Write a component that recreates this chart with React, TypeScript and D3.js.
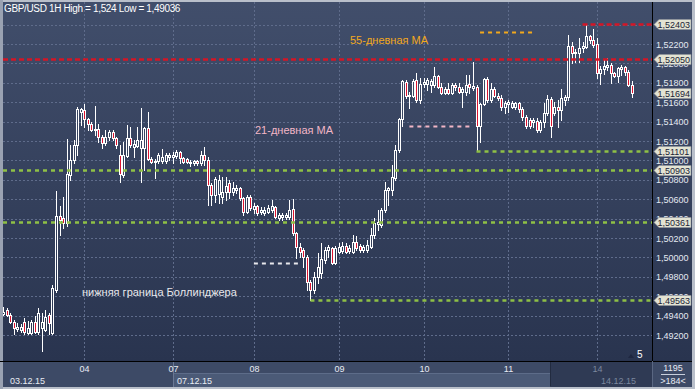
import React from 'react';
import * as d3 from 'd3';

const W = 695, H = 389;

const openP = [1.49417,1.49458,1.49407,1.49334,1.49262,1.49252,1.49334,1.49221,1.49221,1.49334,1.49231,1.49273,1.49252,1.49407,1.49221,1.49664,1.50427,1.50407,1.50355,1.50850,
1.51005,1.51159,1.51499,1.51520,1.51427,1.51376,1.51314,1.51324,1.51242,1.51180,1.51242,1.51293,1.51231,1.51056,1.50850,1.51046,1.51231,1.51139,1.51149,1.51128,
1.51128,1.51334,1.51015,1.50984,1.50994,1.50994,1.50994,1.51035,1.51035,1.51046,1.51087,1.51025,1.51015,1.50984,1.50974,1.50994,1.50974,1.51056,1.51005,1.50747,
1.50644,1.50654,1.50623,1.50675,1.50767,1.50675,1.50695,1.50716,1.50613,1.50468,1.50623,1.50499,1.50530,1.50468,1.50458,1.50468,1.50489,1.50520,1.50407,1.50417,
1.50417,1.50417,1.50499,1.50252,1.50108,1.50077,1.50005,1.49747,1.49664,1.49798,1.49840,1.49974,1.50077,1.50097,1.49943,1.50056,1.50066,1.50118,1.50066,1.50056,
1.50159,1.50118,1.50077,1.50077,1.50108,1.50231,1.50345,1.50334,1.50489,1.50695,1.50695,1.50819,1.51108,1.51427,1.51809,1.51664,1.51664,1.51829,1.51623,1.51788,
1.51788,1.51778,1.51778,1.51871,1.51757,1.51695,1.51736,1.51695,1.51778,1.51757,1.51706,1.51706,1.51788,1.51747,1.51757,1.51355,1.51582,1.51840,1.51623,1.51736,
1.51664,1.51644,1.51551,1.51582,1.51551,1.51551,1.51592,1.51530,1.51448,1.51417,1.51396,1.51407,1.51314,1.51396,1.51489,1.51633,1.51489,1.51551,1.51520,1.51623,
1.51654,1.52180,1.52108,1.52108,1.52159,1.52169,1.52283,1.52242,1.52200,1.51901,1.51943,1.51963,1.51984,1.51901,1.51871,1.51943,1.51963,1.51912,1.51778];

const highP = [1.49489,1.49479,1.49427,1.49355,1.49324,1.49314,1.49376,1.49345,1.49355,1.49396,1.49479,1.49427,1.49458,1.49427,1.49716,1.50685,1.50530,1.50623,1.51221,1.51159,
1.51211,1.51551,1.51541,1.51582,1.51438,1.51396,1.51561,1.51376,1.51262,1.51314,1.51314,1.51314,1.51242,1.51159,1.51190,1.51365,1.51345,1.51211,1.51345,1.51541,
1.51345,1.51499,1.51035,1.51015,1.51077,1.51118,1.51077,1.51077,1.51087,1.51108,1.51097,1.51035,1.51025,1.51005,1.51005,1.51005,1.51097,1.51139,1.51035,1.50767,
1.50829,1.50850,1.50829,1.50829,1.50798,1.50778,1.50747,1.50726,1.50623,1.50644,1.50644,1.50561,1.50541,1.50520,1.50520,1.50541,1.50592,1.50530,1.50458,1.50458,
1.50458,1.50592,1.50602,1.50262,1.50149,1.50097,1.50025,1.49767,1.49850,1.50046,1.50149,1.50108,1.50128,1.50108,1.50118,1.50149,1.50159,1.50149,1.50128,1.50231,
1.50221,1.50139,1.50128,1.50180,1.50304,1.50407,1.50489,1.50510,1.50778,1.50726,1.50953,1.51159,1.51438,1.51829,1.51829,1.51706,1.51840,1.51901,1.51850,1.51850,
1.51850,1.51840,1.51963,1.51881,1.51798,1.51757,1.51798,1.51798,1.51798,1.51798,1.51757,1.51881,1.51881,1.52015,1.51778,1.51592,1.51850,1.51860,1.51798,1.51757,
1.51695,1.51675,1.51613,1.51623,1.51613,1.51602,1.51602,1.51551,1.51468,1.51438,1.51438,1.51438,1.51417,1.51592,1.51675,1.51654,1.51602,1.51623,1.51736,1.51675,
1.52293,1.52221,1.52149,1.52262,1.52221,1.52400,1.52293,1.52355,1.52262,1.51974,1.52035,1.52056,1.52005,1.51912,1.51963,1.51984,1.51974,1.51932,1.51819];

const lowP = [1.49407,1.49396,1.49324,1.49211,1.49242,1.49231,1.49211,1.49211,1.49211,1.49221,1.49211,1.49036,1.49242,1.49211,1.49211,1.49644,1.50231,1.50304,1.50324,1.50798,
1.50974,1.51056,1.51365,1.51345,1.51314,1.51304,1.51262,1.51190,1.51128,1.51159,1.51211,1.51211,1.51128,1.50778,1.50829,1.51035,1.51139,1.51035,1.51139,1.50778,
1.50901,1.51005,1.50974,1.50819,1.50974,1.50974,1.50974,1.51005,1.50974,1.51025,1.50974,1.50974,1.50974,1.50943,1.50953,1.50953,1.50953,1.50953,1.50541,1.50541,
1.50572,1.50561,1.50561,1.50592,1.50613,1.50644,1.50664,1.50592,1.50438,1.50458,1.50489,1.50458,1.50438,1.50448,1.50438,1.50458,1.50468,1.50407,1.50386,1.50386,
1.50396,1.50396,1.50231,1.49994,1.50005,1.49902,1.49664,1.49563,1.49633,1.49737,1.49788,1.49943,1.50005,1.49933,1.49933,1.50046,1.50046,1.50046,1.50046,1.50046,
1.50077,1.50056,1.50056,1.50056,1.50097,1.50200,1.50283,1.50314,1.50468,1.50541,1.50644,1.50798,1.51087,1.51355,1.51644,1.51541,1.51654,1.51602,1.51592,1.51757,
1.51726,1.51706,1.51757,1.51747,1.51685,1.51685,1.51685,1.51685,1.51726,1.51695,1.51551,1.51675,1.51695,1.51726,1.51101,1.51190,1.51572,1.51602,1.51602,1.51654,
1.51623,1.51520,1.51489,1.51499,1.51541,1.51530,1.51499,1.51417,1.51334,1.51334,1.51345,1.51293,1.51293,1.51345,1.51468,1.51242,1.51468,1.51345,1.51417,1.51572,
1.51623,1.52005,1.52015,1.52015,1.52118,1.52159,1.52211,1.52169,1.51850,1.51788,1.51891,1.51932,1.51798,1.51860,1.51809,1.51881,1.51881,1.51767,1.51654];

const closeP = [1.49438,1.49407,1.49334,1.49273,1.49283,1.49283,1.49231,1.49273,1.49334,1.49231,1.49427,1.49334,1.49386,1.49324,1.49685,1.50427,1.50386,1.50355,1.50860,1.51005,
1.51159,1.51530,1.51530,1.51427,1.51376,1.51314,1.51324,1.51242,1.51180,1.51242,1.51293,1.51231,1.51159,1.50860,1.51056,1.51231,1.51159,1.51169,1.51211,1.51211,
1.51334,1.51015,1.50984,1.50994,1.51056,1.51035,1.51056,1.51056,1.51056,1.51087,1.51025,1.50984,1.50984,1.50974,1.50994,1.50974,1.51056,1.51005,1.50747,1.50644,
1.50809,1.50798,1.50675,1.50737,1.50675,1.50716,1.50716,1.50613,1.50468,1.50623,1.50510,1.50530,1.50458,1.50489,1.50489,1.50510,1.50530,1.50417,1.50438,1.50438,
1.50438,1.50489,1.50252,1.50108,1.50056,1.50005,1.49747,1.49664,1.49798,1.49902,1.49984,1.50077,1.50108,1.49943,1.50097,1.50108,1.50118,1.50056,1.50097,1.50159,
1.50097,1.50077,1.50108,1.50128,1.50231,1.50355,1.50365,1.50489,1.50695,1.50716,1.50829,1.51108,1.51427,1.51819,1.51664,1.51675,1.51819,1.51623,1.51788,1.51809,
1.51829,1.51819,1.51871,1.51757,1.51695,1.51736,1.51695,1.51778,1.51757,1.51706,1.51736,1.51778,1.51757,1.51767,1.51355,1.51582,1.51840,1.51623,1.51736,1.51664,
1.51644,1.51551,1.51592,1.51602,1.51592,1.51592,1.51530,1.51448,1.51355,1.51355,1.51417,1.51314,1.51396,1.51489,1.51633,1.51355,1.51551,1.51520,1.51644,1.51654,
1.52180,1.52108,1.52118,1.52159,1.52180,1.52283,1.52242,1.52190,1.51901,1.51943,1.51974,1.51984,1.51901,1.51871,1.51953,1.51963,1.51912,1.51778,1.51694];

const priceTicks = [1.492,1.494,1.496,1.498,1.500,1.502,1.504,1.506,1.508,1.510,1.512,1.514,1.516,1.518,1.520,1.522,1.524];

const dayBars = [23, 48, 71, 95, 119, 143, 168];
const dayLabels = ['04', '07', '08', '09', '10', '11', '14'];
const weekBars = [0, 48, 168];
const weekLabels = ['03.12.15', '07.12.15', '14.12.15'];

const levelPrices = [1.52403, 1.52050, 1.51101, 1.50903, 1.50361, 1.49563];
const levelStartBar = [164, 0, 134, 0, 0, 87];
const levelKind = ['res', 'res', 'sup', 'sup', 'sup', 'sup'];
const lastPrice = 1.51694;

const maNames = ['55-дневная MA', '21-дневная MA', 'нижняя граница Боллинджера'];
const maPrices = [1.52324, 1.51355, 1.49946];
const maFromBar = [135, 115, 71];
const maToBar = [150, 132, 83.5];

const headerText = 'GBP/USD 1H High = 1,524 Low = 1,49036';
const cornerTop = '1195';
const cornerBottom = '>184<';
const zoomLabel = '5';

const FONT = '"Liberation Sans", Arial, sans-serif';

export default function App() {
  const plotL = 3, plotR = 652, plotT = 2, plotB = 361, axisR = 692, botB = 387;
  const n = openP.length;
  const x = d3.scaleLinear().domain([0, n - 1]).range([3, 632]);
  const y = d3.scaleLinear().domain([1.492, 1.524]).range([335, 24.6]);
  const px = (i: number) => Math.round(x(i));
  const fmt = (v: number) => v.toFixed(5).replace('.', ',');

  const kindColor: Record<string, string> = { res: '#d41626', sup: '#8fc046' };
  const maColor = ['#f2a81d', '#f2b6c6', '#e8e8ec'];
  const maLabelPos = [{ x: 350, y: 44 }, { x: 255, y: 134 }, { x: 82, y: 296 }];

  const candles = openP.map((o, i) => {
    const c = closeP[i];
    const hi = highP[i], lo = lowP[i];
    const cx = px(i);
    const yTop = Math.round(y(Math.max(o, c)));
    const yBot = Math.round(y(Math.min(o, c)));
    const yH = Math.round(y(hi));
    const yL = Math.round(y(lo));
    const bull = c >= o;
    return (
      <g key={i}>
        {bull ? (
          <>
            <line x1={cx + 0.5} x2={cx + 0.5} y1={yH} y2={yTop} stroke="#ffffff" strokeWidth={1} />
            <line x1={cx + 0.5} x2={cx + 0.5} y1={yBot + 1} y2={yL + 1} stroke="#ffffff" strokeWidth={1} />
          </>
        ) : (
          <line x1={cx + 0.5} x2={cx + 0.5} y1={yH} y2={yL + 1} stroke="#ffffff" strokeWidth={1} />
        )}
        <rect x={cx - 0.5} y={yTop + 0.5} width={2} height={Math.max(yBot - yTop, 0.001)}
          fill={bull ? 'url(#bgGrad)' : '#dc1430'} stroke="#ffffff" strokeWidth={1} />
      </g>
    );
  });

  const tagPath = (yc: number) => {
    const t = yc - 5, b = yc + 5;
    return `M654,${yc} L659,${t} L691,${t} L691,${b} L659,${b} Z`;
  };
  const tags = [...levelPrices, lastPrice];

  return (
    <svg width={W} height={H} style={{ position: 'absolute', left: 0, top: 0, display: 'block' }}
      fontFamily={FONT}>
      <defs>
        <linearGradient id="bgGrad" gradientUnits="userSpaceOnUse" x1={0} y1={plotT} x2={0} y2={plotB}>
          <stop offset="0" stopColor="#414e6b" />
          <stop offset="1" stopColor="#29344f" />
        </linearGradient>
        <clipPath id="plotClip">
          <rect x={plotL} y={plotT} width={plotR - plotL} height={plotB - plotT} />
        </clipPath>
      </defs>

      {/* frame */}
      <rect x={0} y={0} width={W} height={H} fill="#b9bfca" />
      <rect x={0} y={0} width={3} height={H} fill="#9aa2b2" />
      <rect x={plotL} y={plotT} width={axisR - plotL} height={plotB - plotT} fill="url(#bgGrad)" />

      {/* grid */}
      <g stroke="#5f6c8b" strokeWidth={1} strokeDasharray="2,2" shapeRendering="crispEdges">
        {priceTicks.map((t, i) => (
          <line key={'h' + i} x1={plotL} x2={plotR} y1={Math.round(y(t)) + 0.5} y2={Math.round(y(t)) + 0.5} />
        ))}
        {dayBars.map((b, i) => (
          <line key={'v' + i} x1={px(b) + 0.5} x2={px(b) + 0.5} y1={plotT} y2={plotB} />
        ))}
      </g>

      <g clipPath="url(#plotClip)">{candles}</g>

      {/* level lines */}
      <g clipPath="url(#plotClip)">
        {levelPrices.map((p, i) => (
          <line key={'l' + i} x1={levelStartBar[i] === 0 ? plotL : x(levelStartBar[i])} x2={plotR}
            y1={Math.round(y(p)) + 0.5} y2={Math.round(y(p)) + 0.5}
            stroke={kindColor[levelKind[i]]} strokeWidth={2.5}
            strokeDasharray={levelKind[i] === 'res' ? '5,3' : '4,4'} />
        ))}
        {maPrices.map((p, i) => (
          <line key={'m' + i} x1={x(maFromBar[i])} x2={x(maToBar[i])}
            y1={Math.round(y(p)) + 0.5} y2={Math.round(y(p)) + 0.5}
            stroke={maColor[i]} strokeWidth={2} strokeDasharray="4,4" />
        ))}
      </g>

      {/* annotation labels */}
      {maNames.map((s, i) => (
        <text key={'mt' + i} x={maLabelPos[i].x} y={maLabelPos[i].y} fontSize={11} fill={maColor[i]}>{s}</text>
      ))}

      <text x={4} y={12} fontSize={10} fill="#ffffff" letterSpacing={-0.35}>{headerText}</text>

      {/* right axis */}
      <line x1={plotR + 0.5} x2={plotR + 0.5} y1={plotT} y2={plotB} stroke="#000000" strokeWidth={1} />
      {priceTicks.map((t, i) => (
        <text key={'yt' + i} x={656} y={y(t) + 3.5} fontSize={9} fill="#e4e9f2">{fmt(t)}</text>
      ))}
      {tags.map((p, i) => {
        const yc = Math.round(y(p)) + 0.5;
        return (
          <g key={'tag' + i}>
            <path d={tagPath(yc)} fill="#e3e3d3" stroke="#8f949c" strokeWidth={0.6} />
            <text x={657.5} y={yc + 3.3} fontSize={9} fill="#1c2436">{fmt(p)}</text>
          </g>
        );
      })}

      {/* zoom indicator */}
      <path d="M628,358 L631,354 L634,358 Z" fill="#1e2740" />
      <text x={637} y={357.5} fontSize={10} fill="#ffffff">{zoomLabel}</text>

      {/* bottom axis */}
      <rect x={plotL} y={plotB} width={axisR - plotL} height={botB - plotB} fill="#3d4a66" />
      <rect x={px(weekBars[1])} y={373} width={x(154.8) - px(weekBars[1])} height={botB - 373} fill="#4b5a77" />
      <line x1={px(weekBars[1])} x2={x(154.8)} y1={373.5} y2={373.5} stroke="#5d6c89" strokeWidth={1} />
      <line x1={px(weekBars[1]) + 0.5} x2={px(weekBars[1]) + 0.5} y1={plotB} y2={botB} stroke="#6a7894" strokeWidth={1} />
      <rect x={x(154.8)} y={plotB + 1} width={plotR - x(154.8)} height={botB - plotB - 1} fill="#2f3a54" />
      <line x1={Math.round(x(154.8)) + 0.5} x2={Math.round(x(154.8)) + 0.5} y1={plotB + 1} y2={botB - 1} stroke="#222b40" strokeWidth={1} />
      <line x1={0} x2={axisR} y1={plotB + 0.5} y2={plotB + 0.5} stroke="#000000" strokeWidth={1} />
      <line x1={plotR + 0.5} x2={plotR + 0.5} y1={plotB} y2={botB} stroke="#5a6782" strokeWidth={1} />

      {dayBars.map((b, i) => (
        <text key={'dl' + i} x={px(b) + 0.5} y={372} fontSize={9} textAnchor="middle"
          fill={b >= 154.8 ? '#7b879d' : '#e8ecf4'}>{dayLabels[i]}</text>
      ))}
      {weekBars.map((b, i) => (
        <text key={'wl' + i} x={b === 0 ? 10 : px(b) + 4} y={383.5} fontSize={9}
          fill={b >= 154.8 ? '#7b879d' : '#e8ecf4'}>{weekLabels[i]}</text>
      ))}

      {/* corner */}
      <text x={673} y={371} fontSize={9} textAnchor="middle" fill="#e8ecf4">{cornerTop}</text>
      <line x1={661} x2={685} y1={374.5} y2={374.5} stroke="#c8cfdc" strokeWidth={1} />
      <text x={673} y={384} fontSize={9} textAnchor="middle" fill="#e8ecf4">{cornerBottom}</text>
    </svg>
  );
}
